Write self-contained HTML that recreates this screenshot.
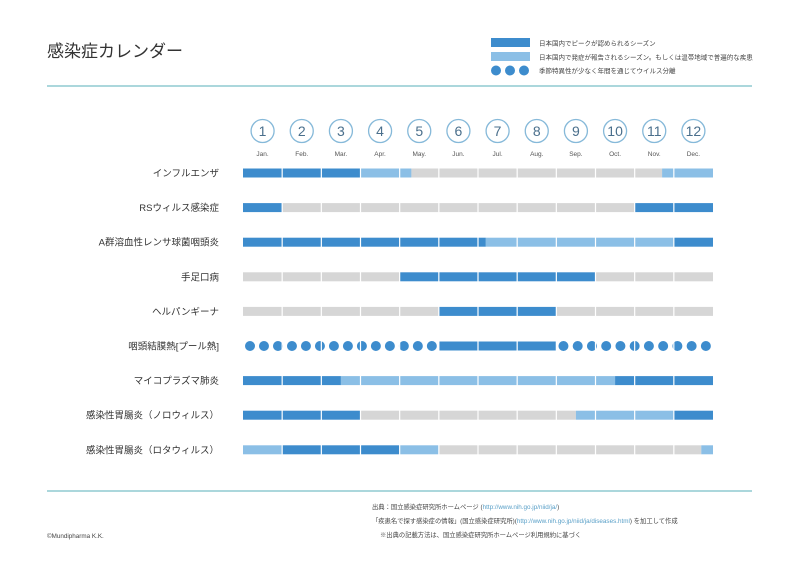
<!DOCTYPE html>
<html><head><meta charset="utf-8">
<style>
html,body{margin:0;padding:0;background:#fff;}
body{width:800px;height:570px;overflow:hidden;font-family:"Liberation Sans","Noto Sans CJK JP",sans-serif;}
svg text{font-family:"Liberation Sans","Noto Sans CJK JP",sans-serif;}
</style></head>
<body>
<svg id="chart" width="800" height="570" xmlns="http://www.w3.org/2000/svg">
<text x="47" y="57" font-size="17" fill="#333">感染症カレンダー</text>
<g>
<rect x="491" y="38" width="39" height="9" fill="#3d8ccd"/>
<text x="539" y="45.5" font-size="6.5" fill="#444">日本国内でピークが認められるシーズン</text>
<rect x="491" y="52" width="39" height="9" fill="#8bbfe6"/>
<text x="539" y="59.5" font-size="6.5" fill="#444">日本国内で発症が報告されるシーズン。もしくは温帯地域で普遍的な疾患</text>
<circle cx="496" cy="70.5" r="5" fill="#3d8ccd"/>
<circle cx="510" cy="70.5" r="5" fill="#3d8ccd"/>
<circle cx="524" cy="70.5" r="5" fill="#3d8ccd"/>
<text x="539" y="73" font-size="6.5" fill="#444">季節特異性が少なく年間を通じてウイルス分離</text>
</g>
<line x1="47" y1="86" x2="752" y2="86" stroke="#8fcad0" stroke-width="1.5"/>
<line x1="47" y1="491" x2="752" y2="491" stroke="#8fcad0" stroke-width="1.5"/>
<g id="months"></g>
<g id="rows"></g>
<g font-size="6.3" fill="#444">
<text x="372" y="509">出典：国立感染症研究所ホームページ (<tspan fill="#5aa0c8">http://www.nih.go.jp/niid/ja/</tspan>)</text>
<text x="372" y="523">「疾患名で探す感染症の情報」(国立感染症研究所)(<tspan fill="#5aa0c8">http://www.nih.go.jp/niid/ja/diseases.html</tspan>) を加工して作成</text>
<text x="380" y="537">※出典の記載方法は、国立感染症研究所ホームページ利用規約に基づく</text>
<text x="47" y="538">©Mundipharma K.K.</text>
</g>
</svg>
<script>
const months = ["1","2","3","4","5","6","7","8","9","10","11","12"];
const monthAbbr = ["Jan.","Feb.","Mar.","Apr.","May.","Jun.","Jul.","Aug.","Sep.","Oct.","Nov.","Dec."];
const diseases = ["インフルエンザ","RSウィルス感染症","A群溶血性レンサ球菌咽頭炎","手足口病","ヘルパンギーナ","咽頭結膜熱[プール熱]","マイコプラズマ肺炎","感染性胃腸炎（ノロウィルス）","感染性胃腸炎（ロタウィルス）"];
// segments per disease: [startMonth, endMonth, type] type: p=peak, o=onset, g=none, d=dots
const seg0 = [[0,3,"p"],[3,4.3,"o"],[4.3,10.7,"g"],[10.7,12,"o"]];
const seg1 = [[0,1,"p"],[1,10,"g"],[10,12,"p"]];
const seg2 = [[0,6.2,"p"],[6.2,11,"o"],[11,12,"p"]];
const seg3 = [[0,4,"g"],[4,9,"p"],[9,12,"g"]];
const seg4 = [[0,5,"g"],[5,8,"p"],[8,12,"g"]];
const seg5 = [[0,5,"d"],[5,8,"p"],[8,12,"d"]];
const seg6 = [[0,2.5,"p"],[2.5,9.5,"o"],[9.5,12,"p"]];
const seg7 = [[0,3,"p"],[3,8.5,"g"],[8.5,11,"o"],[11,12,"p"]];
const seg8 = [[0,1,"o"],[1,4,"p"],[4,5,"o"],[5,11.7,"g"],[11.7,12,"o"]];
const segments = [seg0,seg1,seg2,seg3,seg4,seg5,seg6,seg7,seg8];

const NS="http://www.w3.org/2000/svg";
const X0=243, X1=713, MW=(X1-X0)/12;
const xs = m => X0 + m*MW;
const ys = i => 173 + i*34.6;
const colors = {p:"#3d8ccd",o:"#8bbfe6",g:"#d6d6d6"};
function mk(t,a,p){const e=document.createElementNS(NS,t);for(const k in a)e.setAttribute(k,a[k]);p.appendChild(e);return e;}
const mg=document.getElementById("months");
months.forEach((m,i)=>{
  const cx=xs(i+0.5);
  const c=mk("circle",{cx:cx,cy:131,r:11.5,fill:"none",stroke:"#86b9d9","stroke-width":1.3},mg);
  
  
  const t=mk("text",{x:cx,y:136,"text-anchor":"middle","font-size":14,fill:"#4a6f8c"},mg);
  
  
  t.textContent=m;
  const a=mk("text",{x:cx,y:156,"text-anchor":"middle","font-size":6.5,fill:"#555"},mg);
  
  
  a.textContent=monthAbbr[i];
});
const rg=document.getElementById("rows");
diseases.forEach((d,i)=>{
  const y=ys(i);
  const g=mk("g",{},rg);
  
  
  const t=mk("text",{x:219,y:y+3.5,"text-anchor":"end","font-size":9.5,fill:"#333"},g);
  
  
  t.textContent=d;
  segments[i].forEach(s=>{
    if(s[2]==="d"){
      const n=Math.round((s[1]-s[0])*2.8);
      const step=(xs(s[1])-xs(s[0]))/n;
      for(let k=0;k<n;k++){
        const c=mk("circle",{cx:xs(s[0])+step*(k+0.5),cy:y,r:5,fill:colors.p},g);
        
        
      }
    } else {
      const r=mk("rect",{x:xs(s[0]),y:y-4.5,width:xs(s[1])-xs(s[0]),height:9,fill:colors[s[2]]},g);
      
      
    }
  });
  for(let m=1;m<12;m++){
    const l=mk("line",{x1:xs(m),x2:xs(m),y1:y-5,y2:y+5,stroke:"#fff","stroke-width":1.2},g);
    
    
  }
});
</script>
</body></html>
